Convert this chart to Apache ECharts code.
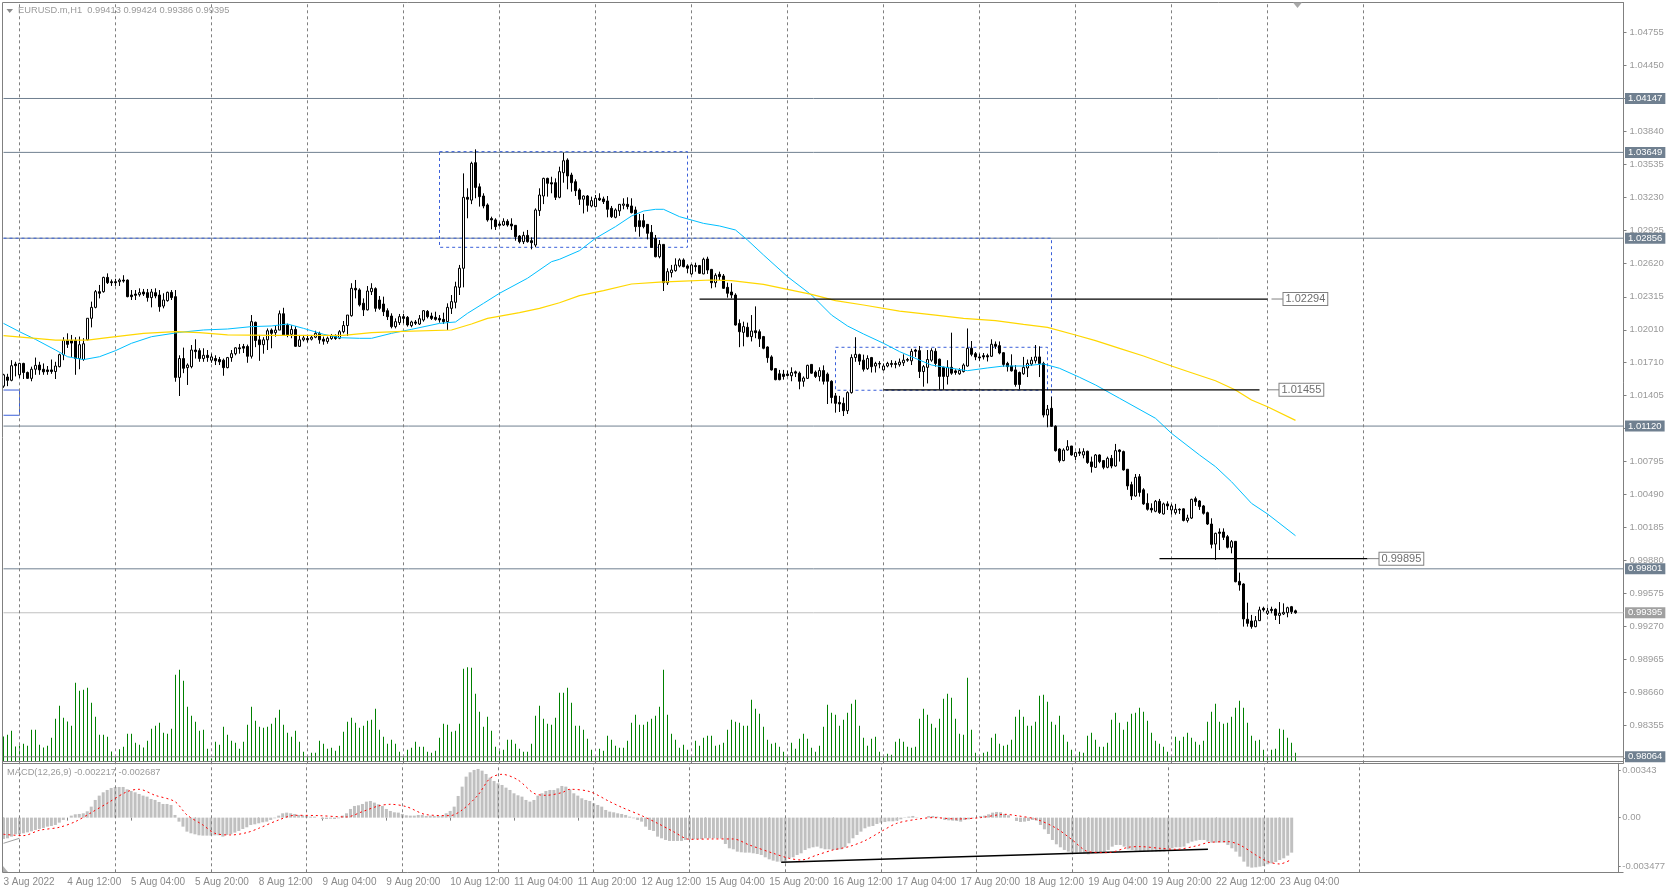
<!DOCTYPE html>
<html><head><meta charset="utf-8"><style>html,body{margin:0;padding:0;background:#fff}#c{width:1668px;height:890px}</style>
<script src="https://cdn.jsdelivr.net/npm/echarts@6/dist/echarts.min.js"></script></head><body><div id="c"></div>
<script>
// candles in points (1e-5): [open, close, low, high]
const candlesA=[
[101489,101594,101474,101603],[101573,101543,101489,101603],[101543,101678,101534,101729],[101693,101678,101579,101714],[101594,101699,101564,101705],[101699,101615,101555,101705],[101615,101561,101555,101624],[101561,101645,101534,101669],[101645,101681,101594,101753],[101684,101639,101594,101714],
[101645,101621,101594,101699],[101639,101624,101594,101675],[101639,101624,101603,101735],[101624,101675,101555,101714],[101669,101780,101663,101789],[101780,101911,101729,101941],[101911,101875,101842,101977],[101911,101887,101759,101962],[101911,101744,101594,101941],[101744,101872,101645,101947],
[101735,101881,101723,101932],[101917,102116,101911,102116],[102116,102217,102032,102270],[102217,102362,102208,102377],[102362,102347,102300,102424],[102362,102494,102353,102500],[102494,102445,102433,102531],[102454,102445,102415,102475],[102454,102445,102415,102481],[102454,102469,102415,102484],
[102469,102460,102445,102514],[102469,102316,102310,102475],[102331,102316,102285,102377],[102340,102328,102285,102377],[102334,102353,102316,102393],[102359,102340,102322,102387],[102353,102307,102270,102387],[102307,102359,102217,102387],[102353,102322,102301,102393],[102331,102223,102177,102377],
[102229,102285,102208,102347],[102279,102356,102270,102362],[102356,102307,102285,102377],[102316,101570,101530,102377],[101570,101744,101398,101774],[101744,101654,101609,101845],[101660,101684,101500,101699],[101669,101823,101654,101869],[101823,101808,101744,101922],[101817,101744,101714,101839],
[101744,101774,101714,101839],[101774,101753,101714,101823],[101729,101759,101705,101789],[101744,101723,101684,101774],[101735,101714,101684,101759]];
const candlesB=[
[101729,101660,101585,101744],[101660,101753,101654,101759],[101753,101789,101714,101823],[101789,101843,101774,101849],[101843,101834,101789,101879],[101855,101840,101795,101879],[101855,101765,101705,101873],[101765,102085,101744,102146],[102079,101911,101849,102085],[101917,101872,101723,101962],
[101872,101917,101789,101941],[101917,102001,101823,102022],[102007,101977,101839,102022],[101983,102007,101947,102052],[102007,102158,102007,102188],[102158,101962,101962,102213],[102052,101962,101941,102067],[101968,102013,101932,102052],[102013,101857,101851,102043],[101857,101917,101851,101962],
[101917,101935,101902,101962],[101929,101917,101893,101953],[101923,101941,101911,101962],[101941,101977,101932,102001],[101977,101917,101881,101992],[101923,101905,101872,101947],[101902,101932,101881,101947],[101929,101953,101917,101971],[101947,101929,101917,101968],[101932,101992,101923,102007],
[101992,102049,101977,102091],[102049,102146,101953,102146],[102140,102393,102131,102440],[102393,102378,102300,102470],[102378,102240,102225,102393],[102255,102194,102137,102300],[102194,102368,102188,102414],[102362,102393,102331,102440],[102390,102208,102177,102402],[102285,102208,102194,102322],
[102248,102177,102137,102316],[102186,102131,102100,102208],[102137,102039,102023,102162],[102039,102085,102023,102115],[102076,102131,102054,102156],[102131,102115,102070,102156],[102125,102054,102039,102137],[102048,102082,102033,102094],[102082,102070,102054,102100],[102063,102112,102054,102146],
[102100,102186,102085,102192],[102180,102131,102115,102192],[102137,102115,102100,102168],[102125,102106,102094,102177],[102115,102100,102076,102146]];
const candlesC=[
[102106,102085,102063,102168],[102085,102217,102008,102254],[102208,102270,102156,102331],[102264,102408,102208,102454],[102402,102578,102331,102609],[102578,103234,102402,103455],[103234,103216,103040,103317],[103208,103548,103171,103563],[103554,103325,103225,103677],[103331,103240,103148,103362],
[103246,103154,103132,103271],[103163,103025,103009,103178],[103037,103025,102938,103055],[103025,102963,102932,103040],[102987,102975,102963,103009],[102978,103012,102969,103040],[103012,102978,102963,103031],[102987,102969,102932,103040],[102975,102870,102833,102978],[102876,102824,102808,102885],
[102824,102882,102802,102916],[102882,102824,102815,102932],[102833,102815,102753,102864],[102793,103117,102772,103132],[103111,103255,103062,103317],[103246,103409,103171,103415],[103409,103363,103240,103415],[103369,103357,103271,103424],[103369,103234,103209,103409],[103234,103471,103225,103517],
[103461,103572,103369,103646],[103578,103431,103308,103594],[103440,103369,103286,103461],[103378,103295,103246,103400],[103302,103216,103163,103317],[103216,103246,103085,103252],[103246,103160,103101,103255],[103154,103203,103141,103240],[103148,103225,103141,103255],[103225,103209,103200,103271],
[103219,103194,103172,103240],[103200,103123,103049,103246],[103132,103055,103043,103154],[103049,103117,103040,103132],[103108,103169,103062,103172],[103160,103172,103123,103225],[103169,103148,103123,103234],[103154,103092,103085,103225],[103117,102963,102916,103148],[103018,102963,102870,103080],
[103018,102963,102947,103080],[102984,102901,102845,102987],[102910,102771,102771,102978],[102855,102685,102679,102886],[102685,102799,102670,102839]];
const candlesD=[
[102799,102445,102368,102799],[102445,102547,102424,102578],[102538,102562,102494,102609],[102556,102609,102547,102670],[102600,102655,102587,102670],[102655,102593,102587,102670],[102600,102578,102532,102615],[102526,102609,102517,102615],[102603,102593,102547,102630],[102603,102532,102526,102609],
[102526,102661,102523,102676],[102664,102562,102526,102685],[102568,102445,102393,102572],[102445,102513,102402,102532],[102522,102501,102470,102547],[102507,102393,102387,102525],[102402,102347,102307,102445],[102359,102331,102301,102440],[102331,102054,102048,102347],[102069,101992,101849,102106],
[101986,102039,101857,102085],[102033,101947,101941,102076],[101947,101998,101902,102146],[102001,101983,101932,102226],[101992,101926,101851,102013],[101947,101839,101830,101953],[101851,101752,101705,101857],[101759,101639,101633,101774],[101651,101549,101543,101657],[101603,101549,101543,101639],
[101600,101579,101549,101639],[101600,101588,101579,101633],[101585,101615,101534,101663],[101621,101609,101573,101633],[101609,101534,101460,101624],[101534,101564,101484,101579],[101561,101681,101555,101687],[101690,101609,101603,101693],[101618,101579,101564,101633],[101579,101633,101534,101663],
[101633,101534,101504,101681],[101600,101534,101324,101615],[101534,101384,101330,101543],[101399,101330,101244,101426],[101339,101324,101250,101399],[101330,101262,101213,101384],[101262,101429,101232,101441],[101429,101753,101420,101783],[101753,101783,101714,101941],[101780,101720,101684,101789],
[101729,101645,101624,101780],[101651,101744,101639,101774],[101753,101669,101615,101759],[101675,101699,101615,101714],[101693,101699,101654,101720]];
const candlesE=[
[101639,101675,101633,101699],[101675,101699,101663,101714],[101699,101690,101663,101729],[101699,101690,101654,101723],[101687,101711,101669,101744],[101705,101729,101675,101783],[101735,101729,101714,101750],[101723,101810,101684,101834],[101823,101811,101759,101834],[101817,101624,101564,101860],
[101624,101669,101484,101684],[101663,101735,101514,101823],[101729,101817,101714,101839],[101811,101699,101669,101839],[101738,101579,101459,101744],[101663,101579,101459,101669],[101579,101663,101504,101729],[101663,101609,101594,101983],[101630,101615,101594,101645],[101603,101633,101594,101654],
[101624,101684,101615,101699],[101675,101839,101669,102022],[101839,101783,101765,101906],[101789,101759,101729,101804],[101759,101750,101723,101789],[101771,101759,101735,101795],[101771,101759,101717,101789],[101765,101876,101759,101922],[101876,101857,101833,101902],[101863,101795,101783,101902],
[101798,101690,101669,101804],[101699,101669,101624,101714],[101675,101630,101624,101783],[101639,101504,101484,101684],[101615,101504,101459,101624],[101603,101663,101594,101759],[101657,101699,101573,101735],[101693,101729,101675,101759],[101723,101759,101699,101869],[101759,101699,101573,101857],
[101699,101222,101200,101714],[101222,101275,101109,101315],[101284,101118,101112,101391],[101118,100893,100884,101127],[100908,100801,100783,100915],[100801,100899,100795,100915],[100899,100930,100893,100990],[100936,100853,100847,100936],[100838,100875,100807,100884],[100881,100869,100844,100915],
[100853,100884,100822,100915],[100887,100783,100771,100893],[100789,100745,100690,100838],[100739,100853,100733,100862]];
const candlesF=[
[100853,100792,100777,100859],[100801,100739,100721,100807],[100739,100822,100730,100838],[100822,100751,100730,100853],[100751,100893,100745,100955],[100899,100884,100792,100905],[100884,100715,100709,100893],[100721,100567,100531,100721],[100579,100474,100437,100606],[100474,100646,100468,100677],
[100652,100507,100468,100677],[100531,100401,100392,100546],[100406,100351,100339,100498],[100360,100345,100320,100406],[100333,100425,100324,100437],[100425,100321,100308,100447],[100308,100401,100302,100413],[100401,100382,100345,100425],[100345,100382,100302,100401],[100320,100351,100302,100401],
[100351,100345,100308,100360],[100355,100248,100239,100360],[100248,100270,100229,100301],[100270,100443,100261,100449],[100449,100422,100382,100468],[100428,100376,100345,100437],[100382,100314,100302,100391],[100320,100215,100206,100329],[100215,100027,99990,100268],[100030,100129,99883,100135],
[100141,100129,99975,100175],[100141,100092,100067,100175],[100098,100000,99990,100114],[100000,100052,99944,100067],[100055,99682,99676,100058],[99685,99652,99599,99766],[99661,99338,99267,99667],[99335,99297,99267,99488],[99319,99267,99248,99375],[99267,99322,99261,99365],
[99322,99421,99319,99451],[99436,99421,99405,99451],[99390,99412,99374,99442],[99427,99415,99390,99451],[99427,99371,99328,99436],[99371,99390,99291,99494],[99384,99399,99374,99482],[99396,99442,99353,99451],[99451,99405,99384,99458],[99413,99395,99386,99424]];
const volumes=[75,80,92,45,48,53,47,95,95,50,42,47,71,128,167,131,120,107,236,212,215,221,176,134,80,80,74,30,15,37,44,83,83,56,50,42,62,98,107,116,86,83,98,260,275,242,164,137,119,92,95,38,10,59,50,104,80,62,56,38,59,110,164,122,104,101,104,113,131,155,110,86,74,92,59,29,15,26,26,62,53,38,41,32,47,89,119,131,116,101,107,122,125,158,95,74,53,65,53,29,13,35,41,59,44,44,29,26,32,71,113,110,89,92,113,278,283,281,203,149,104,134,92,44,35,35,65,65,53,38,29,29,53,137,167,128,113,110,131,206,
206,221,176,107,107,95,68,35,15,38,32,77,65,47,41,41,62,116,140,110,110,119,128,137,164,275,140,83,65,41,50,35,17,62,47,71,77,77,47,50,56,95,125,119,116,107,107,185,158,143,104,65,53,56,44,29,15,56,38,68,83,68,41,29,47,104,170,146,140,107,125,146,173,185,107,71,47,68,74,29,13,23,20,59,68,59,44,41,44,128,158,140,113,101,128,188,203,191,128,83,80,251,95,26,15,26,29,71,83,53,47,50,65,134,155,134,107,107,119,197,200,179,119,110,137,80,59,35,15,29,26,77,86,65,44,44,56,125,146,
116,95,119,143,146,161,149,122,86,62,53,44,29,15,74,62,74,86,71,59,50,62,119,149,173,119,113,116,134,161,182,161,116,77,62,65,35,15,35,38,98,95,71,56,26];
// MACD histogram in millionths
const macdHist=[-1536,-1488,-1368,-1200,-1200,-1128,-1056,-984,-888,-816,-744,-648,-600,-528,-360,-168,0,144,240,264,312,456,792,1272,1584,1824,1992,2136,2208,2208,2208,2040,1920,1824,1704,1584,1512,1344,1272,1128,984,984,912,192,-288,-648,-1008,-1128,-1200,-1272,-1296,-1296,-1296,-1272,-1272,-1368,-1248,-1200,-1080,-960,-816,-696,-528,-480,-408,-336,-288,-168,-48,144,312,360,312,264,192,168,120,72,72,0,-96,-96,-72,-96,-48,144,312,624,840,888,984,1152,1200,1080,960,840,624,480,384,360,264,168,144,144,192,192,120,144,120,120,144,312,480,792,1560,2232,2952,3264,3432,3504,3384,3144,2880,2640,2472,2352,2160,1992,1752,1608,1512,1272,1152,1272,1584,1752,1920,1992,1992,2112,
2280,2232,2040,1752,1584,1392,1272,1200,1032,912,792,552,432,384,312,264,192,72,-48,-168,-288,-648,-888,-960,-1368,-1488,-1608,-1680,-1680,-1680,-1680,-1608,-1560,-1560,-1536,-1536,-1488,-1488,-1488,-1488,-1512,-1896,-2208,-2280,-2448,-2496,-2520,-2520,-2568,-2616,-2688,-2856,-3000,-3096,-3168,-3168,-3168,-2928,-2856,-2688,-2568,-2328,-2208,-2136,-2088,-2208,-2280,-2280,-2328,-2328,-2280,-2136,-1848,-1488,-1248,-1008,-768,-648,-600,-456,-360,-312,-264,-264,-216,-120,-24,72,120,24,0,0,120,120,72,-24,-168,-192,-216,-240,-288,-168,-120,-48,0,120,144,240,360,408,384,264,168,0,-240,-312,-288,-240,-168,-216,-528,-840,-1176,-1608,-1920,-2136,-2328,-2448,-2520,-2520,-2520,-2568,-2640,-2568,-2568,-2520,-2448,-2328,-2088,
-1968,-1968,-2088,-2280,-2328,-2376,-2424,-2448,-2448,-2448,-2448,-2448,-2448,-2280,-2208,-2136,-2136,-2088,-1848,-1728,-1656,-1608,-1608,-1728,-1800,-1800,-1800,-1800,-1968,-2208,-2448,-2808,-3168,-3528,-3600,-3576,-3528,-3480,-3360,-3288,-3192,-3048,-2928,-2736,-2520];
// sampled readings: [bar, value]
const maFast=[[0,102069],[4,101992],[8,101921],[13,101823],[16,101761],[20,101734],[24,101761],[28,101817],[32,101885],[37,101946],[44,101986],[50,102008],[56,102017],[62,102039],[67,102045],[71,102063],[75,102023],[80,101968],[84,101937],[89,101931],[92,101931],[97,101977],[102,102014],[109,102069],[113,102082],[116,102162],[120,102254],[124,102347],[131,102486],[137,102639],[139,102661],[144,102741],[148,102855],[153,102963],[157,103061],[160,103107],[163,103123],[165,103123],[169,103055],[175,102993],[179,102969],[183,102932],[186,102839],[190,102701],[196,102501],[202,102331],[207,102146],[211,102045],[215,101971],[220,101885],[224,101808],[229,101730],[232,101684],[237,101654],[241,101632],[246,101657],[250,101675],[255,101675],[260,101694],[264,101654],[269,101571],[273,101500],[279,101377],[288,101192],[292,101053],[299,100853],[303,100745],[307,100606],[312,100406],[316,100308],[323,100107]];
const maSlow=[[0,101955],[8,101931],[13,101915],[21,101915],[26,101937],[35,101977],[43,101992],[49,101983],[56,101962],[67,101959],[76,101959],[85,101959],[92,101983],[100,101995],[112,102008],[117,102063],[121,102115],[129,102168],[134,102208],[139,102260],[144,102325],[150,102371],[157,102433],[164,102451],[170,102460],[177,102470],[182,102464],[190,102430],[196,102384],[202,102337],[208,102279],[215,102239],[224,102183],[233,102146],[240,102115],[248,102094],[255,102060],[261,102032],[268,101962],[273,101909],[279,101838],[285,101768],[292,101675],[297,101613],[303,101539],[308,101453],[312,101361],[316,101299],[323,101173]];
const macdSignal=[[0,-1200],[5,-1296],[9,-912],[14,-696],[18,-288],[22,360],[26,1032],[31,1872],[34,2040],[38,1608],[43,1152],[46,192],[50,-528],[53,-1128],[57,-1248],[61,-1080],[64,-768],[69,-168],[73,168],[79,144],[86,48],[90,432],[94,840],[97,960],[101,792],[106,216],[112,144],[115,552],[119,1632],[122,2832],[125,3120],[129,2712],[133,1752],[136,1608],[140,1800],[142,2040],[147,1872],[152,1152],[155,744],[160,144],[164,-408],[168,-1008],[172,-1560],[178,-1536],[183,-1536],[187,-1968],[193,-2568],[197,-2928],[200,-3048],[204,-2688],[208,-2328],[212,-2088],[216,-1656],[220,-1008],[224,-408],[229,-120],[233,0],[239,-96],[245,0],[251,240],[254,144],[259,-120],[264,-768],[268,-1608],[272,-2448],[277,-2520],[282,-2136],[285,-2088],[290,-2208],[294,-2280],[299,-2040],[302,-1800],[307,-1728],[310,-1968],[314,-2688],[317,-3168],[320,-3336],[323,-3000]];
const tickLabels=["3 Aug 2022","4 Aug 12:00","5 Aug 04:00","5 Aug 20:00","8 Aug 12:00","9 Aug 04:00","9 Aug 20:00","10 Aug 12:00","11 Aug 04:00","11 Aug 20:00","12 Aug 12:00","15 Aug 04:00","15 Aug 20:00","16 Aug 12:00","17 Aug 04:00","17 Aug 20:00","18 Aug 12:00","19 Aug 04:00","19 Aug 20:00","22 Aug 12:00","23 Aug 04:00"];
const priceTicks=[1.04755,1.0445,1.04145,1.0384,1.03535,1.0323,1.02925,1.0262,1.02315,1.0201,1.0171,1.01405,1.011,1.00795,1.0049,1.00185,0.9988,0.99575,0.9927,0.98965,0.9866,0.98355,0.9805];
const macdTicks=[0.00343,0,-0.003477];
const macdTickText=["0.00343","0.00","-0.003477"];
const levels=[[1.04147,'#708090'],[1.03649,'#708090'],[1.02856,'#708090'],[1.0112,'#708090'],[0.99801,'#708090'],[0.99395,'#c0c0c0'],[0.98064,'#808080']];
const gridBars=[4,28,52,76,100,124,148,172,196,220,244,268,292,316,340];
const boxA=[[109,103656],[171,103656],[171,102772],[109,102772],[109,103656]];
const boxB=[[208,101848],[261,101848],[261,101451],[208,101451],[208,101848]];
const boxC=[[0,102856],[262,102856],[262,101120]];
const boxD=[[0,101453],[4,101453],[4,101220],[0,101220]];
const trendMacd=[[195,-3216],[302,-2280]];
const trendMacdGrey=[[0,-1848],[4,-1488]];
const hLines=[{v:102294,from:174,to:316,c1:317,c2:320,t:'1.02294'},{v:101455,from:220,to:314,c1:316,c2:319,t:'1.01455'},{v:99895,from:289,to:341,c1:341,c2:344,t:'0.99895'}];

const candles=[].concat(candlesA,candlesB,candlesC,candlesD,candlesE,candlesF).map(r=>r.map(v=>v/1e5));
const BANDS=406, F='"Liberation Sans",Arial,sans-serif', L=1.5, W=1624;
const cats=Array.from({length:BANDS},(_,i)=>i%16===0&&tickLabels[i/16]?tickLabels[i/16]:'');
const isTick=i=>i%16===0&&i<=320;
const pr=a=>a.map(p=>[p[0],p[1]/1e5]);
const mc=a=>a.map(p=>[p[0],p[1]/1e6]);
const base=(g)=>({type:'category',gridIndex:g,data:cats,boundaryGap:true,axisLine:{show:false},axisTick:{show:false},axisLabel:{show:false},splitLine:{show:false}});
const vert=(x,y)=>({type:'line',xAxisIndex:x,yAxisIndex:y,data:[],z:1,silent:true,markLine:{silent:true,symbol:'none',animation:false,label:{show:false},lineStyle:{color:'#808080',type:[3,3],width:1},data:gridBars.map(b=>({xAxis:b}))}});
const ln=(d,color,w,dash,x,y,extra)=>Object.assign({type:'line',xAxisIndex:x||0,yAxisIndex:y||0,data:d,showSymbol:false,symbol:'none',silent:true,animation:false,lineStyle:{color,width:w,type:dash||'solid'},z:4},extra||{});
const series=[
 vert(0,0),vert(2,2),
 ...levels.map(l=>ln([[0,l[0]],[405,l[0]]],l[1],1,'solid',0,0,{z:4,endLabel:{show:true,formatter:l[0].toFixed(5),distance:1.5,color:'#fff',backgroundColor:l[1]==='#c0c0c0'?'#a0a0a0':'#708090',padding:[1,3,0,3],fontFamily:F,fontSize:9.5}})),
 {type:'candlestick',xAxisIndex:0,yAxisIndex:0,data:candles,barWidth:2,z:5,animation:false,silent:true,itemStyle:{color:'#fff',color0:'#000',borderColor:'#000',borderColor0:'#000',borderWidth:1}},
 ln(pr(maFast),'#00bfff',1,'solid',0,0,{z:6}),
 ln(pr(maSlow),'#ffd700',1.2,'solid',0,0,{z:6}),
 ln(pr(boxA),'#3a5fd9',1,[3,3]),ln(pr(boxB),'#3a5fd9',1,[3,3]),ln(pr(boxC),'#3a5fd9',1,[3,3]),ln(pr(boxD),'#3a5fd9',1),
 {type:'bar',xAxisIndex:1,yAxisIndex:1,data:volumes,barWidth:1,itemStyle:{color:'#008000'},animation:false,silent:true,z:3},
 {type:'bar',xAxisIndex:2,yAxisIndex:2,data:macdHist.map(v=>v/1e6),barWidth:3,itemStyle:{color:'#c0c0c0'},animation:false,silent:true,z:3},
 ln(mc(macdSignal),'#ff0000',1,[2,3],2,2,{smooth:0.3,z:6}),
 ln(mc(trendMacd),'#000',1.4,'solid',2,2,{z:5}),ln(mc(trendMacdGrey),'#a0a0a0',1,'solid',2,2,{z:5})
];
hLines.forEach(h=>{
 const v=h.v/1e5;
 series.push(ln([[h.from,v],[h.to,v]],'#000',1.2,'solid',0,0,{z:7}));
 series.push(ln([[h.c1,v],[h.c2,v]],'#808080',1,'solid',0,0,{z:7,endLabel:{show:true,formatter:h.t,distance:0,color:'#6e6e6e',fontFamily:F,fontSize:11,borderColor:'#808080',borderWidth:1,backgroundColor:'#fff',padding:[1,2,0,2]}}));
});
const gl=(a)=>({type:'line',z:20,silent:true,shape:{x1:a[0],y1:a[1],x2:a[2],y2:a[3]},style:{stroke:'#808080',lineWidth:1}});
const tri=(p,c)=>({type:'polygon',z:20,silent:true,shape:{points:p},style:{fill:c}});
const chart=echarts.init(document.getElementById('c'),null,{renderer:'canvas'});
chart.setOption({animation:false,backgroundColor:'#fff',
 title:[{text:'EURUSD.m,H1  0.99413 0.99424 0.99386 0.99395',left:18,top:6,padding:0,textStyle:{fontFamily:F,fontSize:9.3,fontWeight:'normal',color:'#9a9a9a'}},
        {text:'MACD(12,26,9) -0.002217 -0.002687',left:7,top:768,padding:0,textStyle:{fontFamily:F,fontSize:9.3,fontWeight:'normal',color:'#9a9a9a'}}],
 grid:[{left:L,width:W,top:2.5,height:760.8},{left:L,width:W,top:661.5,height:100},{left:L,width:W,top:763.3,height:109}],
 xAxis:[base(0),base(1),Object.assign(base(2),{axisTick:{show:true,alignWithLabel:true,interval:isTick,length:3,lineStyle:{color:'#808080'}},axisLabel:{show:true,interval:isTick,align:'left',margin:5,color:'#8a8a8a',fontFamily:F,fontSize:10,hideOverlap:false}})],
 yAxis:[
  {type:'value',gridIndex:0,position:'right',offset:-2,min:0.98004,max:1.05034,splitLine:{show:false},axisLine:{show:true,lineStyle:{color:'#808080'}},axisTick:{show:true,length:3,customValues:priceTicks,lineStyle:{color:'#808080'}},axisLabel:{show:true,customValues:priceTicks,margin:6,color:'#9a9a9a',fontFamily:F,fontSize:9.5,formatter:v=>v.toFixed(5)}},
  {type:'value',gridIndex:1,min:0,max:300,show:false},
  {type:'value',gridIndex:2,position:'right',offset:-2,min:-0.003936,max:0.003912,splitLine:{show:false},axisLine:{show:true,lineStyle:{color:'#808080'}},axisTick:{show:true,length:2,customValues:macdTicks,lineStyle:{color:'#808080'}},axisLabel:{show:true,customValues:macdTicks,margin:3.5,color:'#9a9a9a',fontFamily:F,fontSize:9.5,formatter:v=>macdTickText[macdTicks.indexOf(v)]}}
 ],
 series,
 graphic:[gl([2.5,2.5,1623.5,2.5]),gl([2.5,2.5,2.5,872.5]),gl([2.5,763.5,1623.5,763.5]),gl([2.5,872.5,1623.5,872.5]),gl([3,761.5,1623,761.5]),
  tri([[1293,2.5],[1302,2.5],[1297.5,8]],'#a8a8a8'),tri([[6.5,9],[13,9],[9.7,13]],'#8a8a8a'),tri([[3,866],[8,872],[3,872]],'#b0b0b0')]
});
</script></body></html>
